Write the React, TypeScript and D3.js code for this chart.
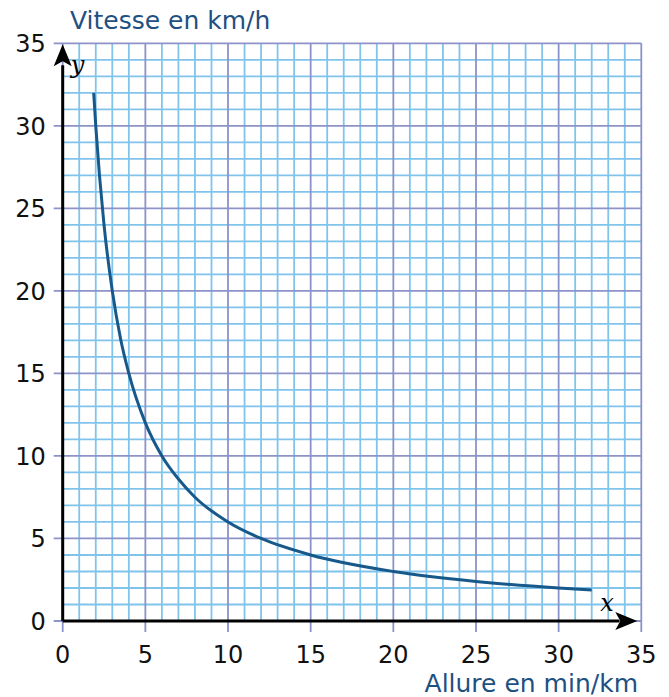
import React from "react";
import * as d3 from "d3";

const allureX = [1.875, 2, 2.5, 3, 3.5, 4, 5, 6, 7, 8, 10, 12, 15, 20, 25, 30, 32];
const vitesseY = [32, 30, 24, 20, 17.1, 15, 12, 10, 8.6, 7.5, 6, 5, 4, 3, 2.4, 2, 1.875];
const xTicks = [0, 5, 10, 15, 20, 25, 30, 35];
const yTicks = [0, 5, 10, 15, 20, 25, 30, 35];
const minorSteps = d3.range(0, 36, 1);
const titleY = "Vitesse en km/h";
const titleX = "Allure en min/km";

export default function App() {
  const W = 669, H = 697;
  const x = d3.scaleLinear().domain([0, 35]).range([62.7, 641.3]);
  const y = d3.scaleLinear().domain([0, 35]).range([621, 43.3]);
  const pts = allureX.map((v, i) => [v, vitesseY[i]] as [number, number]);
  const line = d3.line<[number, number]>().x(d => x(d[0])).y(d => y(d[1])).curve(d3.curveMonotoneX);
  const minorC = "#80c4ec";
  const majorC = "#8b93c9";
  const font = "DejaVu Sans, sans-serif";
  return (
    <svg width={W} height={H} style={{ position: "absolute", left: 0, top: 0, background: "#fff" }}>
      {minorSteps.filter(v => v % 5 !== 0).map(v => (
        <g key={"m" + v}>
          <line x1={x(v)} x2={x(v)} y1={y(0)} y2={y(35)} stroke={minorC} strokeWidth={1.8} />
          <line x1={x(0)} x2={x(35)} y1={y(v)} y2={y(v)} stroke={minorC} strokeWidth={1.8} />
        </g>
      ))}
      {xTicks.map(v => (
        <line key={"vx" + v} x1={x(v)} x2={x(v)} y1={y(0) + 11} y2={y(35)} stroke={majorC} strokeWidth={1.8} />
      ))}
      {yTicks.map(v => (
        <line key={"hy" + v} x1={x(0) - 9} x2={x(35)} y1={y(v)} y2={y(v)} stroke={majorC} strokeWidth={1.8} />
      ))}
      {xTicks.map(v => (
        <text key={"tx" + v} x={x(v)} y={663} textAnchor="middle" fontFamily={font} fontSize={24} fill="#111">{v}</text>
      ))}
      {yTicks.map(v => (
        <text key={"ty" + v} x={x(0) - 17} y={y(v) + 9} textAnchor="end" fontFamily={font} fontSize={24} fill="#111">{v}</text>
      ))}
      {/* axes */}
      <line x1={x(0)} x2={x(35) - 22} y1={y(0)} y2={y(0)} stroke="#000" strokeWidth={3} />
      <line x1={x(0)} x2={x(0)} y1={y(0)} y2={y(35) + 22} stroke="#000" strokeWidth={3} />
      <path d={`M${x(35) - 4},${y(0)} L${x(35) - 26},${y(0) - 9} L${x(35) - 21},${y(0)} L${x(35) - 26},${y(0) + 9} Z`} fill="#000" />
      <path d={`M${x(0)},${y(35) + 1} L${x(0) - 9},${y(35) + 23} L${x(0)},${y(35) + 18} L${x(0) + 9},${y(35) + 23} Z`} fill="#000" />
      <text x={x(0) + 8} y={y(35) + 30} fontFamily="DejaVu Serif, serif" fontStyle="italic" fontSize={24} fill="#000">y</text>
      <text x={x(35) - 41} y={y(0) - 10} fontFamily="DejaVu Serif, serif" fontStyle="italic" fontSize={24} fill="#000">x</text>
      <path d={line(pts) || ""} fill="none" stroke="#17598a" strokeWidth={3} />
      <text x={70} y={29} fontFamily={font} fontSize={25} fill="#1f5082">{titleY}</text>
      <text x={638} y={692} textAnchor="end" fontFamily={font} fontSize={25} fill="#1f5082">{titleX}</text>
    </svg>
  );
}
